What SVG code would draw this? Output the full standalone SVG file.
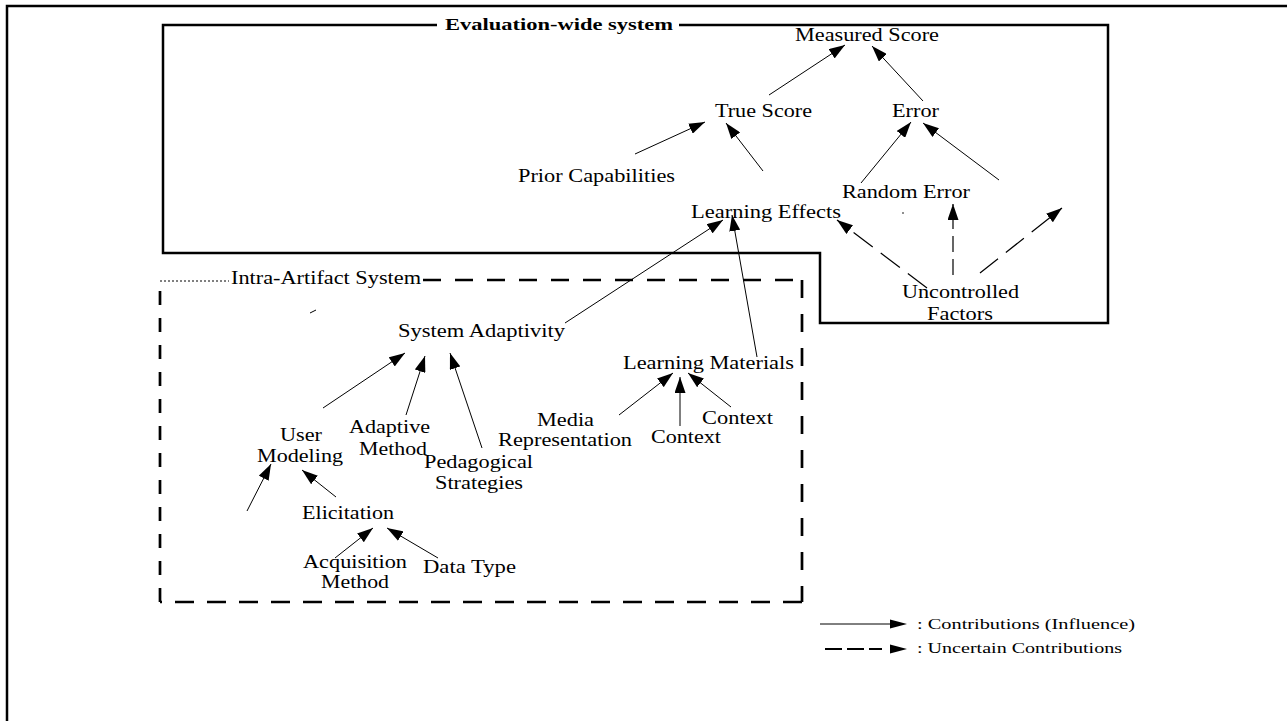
<svg xmlns="http://www.w3.org/2000/svg" width="1287" height="721" viewBox="0 0 1287 721">
  <style>
    .lbl { font-family: "Liberation Serif", "Times New Roman", serif; font-size: 18px; fill: #000; }
    .title { font-family: "Liberation Serif", "Times New Roman", serif; font-size: 16px; font-weight: bold; fill: #000; }
    .leg { font-family: "Liberation Serif", "Times New Roman", serif; font-size: 15px; fill: #000; }
    .edge { stroke: #000; stroke-width: 1; fill: none; marker-end: url(#arr); }
    .dash { stroke: #000; stroke-width: 1.2; fill: none; marker-end: url(#arr); }
    .frame { stroke: #000; fill: none; }
  </style>
  <defs>
    <marker id="arr" markerUnits="userSpaceOnUse" markerWidth="16" markerHeight="11" refX="16" refY="5.5" orient="auto">
      <path d="M0,0 L16,5.5 L0,11 Z" fill="#000"/>
    </marker>
  </defs>
  <rect width="1287" height="721" fill="#fff"/>

  <!-- page frame -->
  <polyline class="frame" stroke-width="2.5" points="7,721 7,6 1287,6"/>

  <!-- evaluation-wide system boundary -->
  <g id="evaluation-wide-system">
    <path class="frame" stroke-width="2.5" d="M437,25 H163 V253 H820 V323 H1108 V25 H679"/>
    <text class="title" x="445" y="30" textLength="228" lengthAdjust="spacingAndGlyphs">Evaluation-wide system</text>
  </g>

  <!-- intra-artifact system boundary -->
  <g id="intra-artifact-system">
    <line x1="160" y1="281" x2="229" y2="281" stroke="#000" stroke-width="1" stroke-dasharray="2,2"/>
    <line x1="423" y1="280" x2="802" y2="280" stroke="#000" stroke-width="2.7" stroke-dasharray="18,14"/>
    <line x1="802" y1="280" x2="802" y2="602" stroke="#000" stroke-width="2.7" stroke-dasharray="18,16"/>
    <line x1="802" y1="602" x2="160" y2="602" stroke="#000" stroke-width="2.7" stroke-dasharray="19,13"/>
    <line x1="160" y1="602" x2="160" y2="281" stroke="#000" stroke-width="2.7" stroke-dasharray="14,13"/>
    <text class="lbl" x="231" y="284" textLength="190" lengthAdjust="spacingAndGlyphs">Intra-Artifact System</text>
  </g>

  <!-- nodes -->
  <g id="measured-score"><text class="lbl" x="795" y="41" textLength="144" lengthAdjust="spacingAndGlyphs">Measured Score</text></g>
  <g id="true-score"><text class="lbl" x="715" y="117" textLength="97" lengthAdjust="spacingAndGlyphs">True Score</text></g>
  <g id="error"><text class="lbl" x="892" y="117" textLength="47" lengthAdjust="spacingAndGlyphs">Error</text></g>
  <g id="prior-capabilities"><text class="lbl" x="518" y="182" textLength="157" lengthAdjust="spacingAndGlyphs">Prior Capabilities</text></g>
  <g id="random-error"><text class="lbl" x="842" y="198" textLength="128" lengthAdjust="spacingAndGlyphs">Random Error</text></g>
  <g id="learning-effects"><text class="lbl" x="691" y="218" textLength="150" lengthAdjust="spacingAndGlyphs">Learning Effects</text></g>
  <g id="uncontrolled-factors">
    <text class="lbl" x="902" y="298" textLength="117" lengthAdjust="spacingAndGlyphs">Uncontrolled</text>
    <text class="lbl" x="927" y="320" textLength="66" lengthAdjust="spacingAndGlyphs">Factors</text>
  </g>
  <g id="system-adaptivity"><text class="lbl" x="398" y="337" textLength="167" lengthAdjust="spacingAndGlyphs">System Adaptivity</text></g>
  <g id="learning-materials"><text class="lbl" x="623" y="369" textLength="171" lengthAdjust="spacingAndGlyphs">Learning Materials</text></g>
  <g id="user-modeling">
    <text class="lbl" x="280" y="441" textLength="42" lengthAdjust="spacingAndGlyphs">User</text>
    <text class="lbl" x="257" y="462" textLength="86" lengthAdjust="spacingAndGlyphs">Modeling</text>
  </g>
  <g id="adaptive-method">
    <text class="lbl" x="349" y="433" textLength="81" lengthAdjust="spacingAndGlyphs">Adaptive</text>
    <text class="lbl" x="359" y="455" textLength="68" lengthAdjust="spacingAndGlyphs">Method</text>
  </g>
  <g id="pedagogical-strategies">
    <text class="lbl" x="424" y="468" textLength="109" lengthAdjust="spacingAndGlyphs">Pedagogical</text>
    <text class="lbl" x="435" y="489" textLength="88" lengthAdjust="spacingAndGlyphs">Strategies</text>
  </g>
  <g id="media-representation">
    <text class="lbl" x="537" y="426" textLength="57" lengthAdjust="spacingAndGlyphs">Media</text>
    <text class="lbl" x="498" y="446" textLength="134" lengthAdjust="spacingAndGlyphs">Representation</text>
  </g>
  <g id="context-a"><text class="lbl" x="651" y="443" textLength="70" lengthAdjust="spacingAndGlyphs">Context</text></g>
  <g id="context-b"><text class="lbl" x="702" y="424" textLength="71" lengthAdjust="spacingAndGlyphs">Context</text></g>
  <g id="elicitation"><text class="lbl" x="302" y="519" textLength="92" lengthAdjust="spacingAndGlyphs">Elicitation</text></g>
  <g id="acquisition-method">
    <text class="lbl" x="303" y="568" textLength="104" lengthAdjust="spacingAndGlyphs">Acquisition</text>
    <text class="lbl" x="321" y="588" textLength="68" lengthAdjust="spacingAndGlyphs">Method</text>
  </g>
  <g id="data-type"><text class="lbl" x="423" y="573" textLength="93" lengthAdjust="spacingAndGlyphs">Data Type</text></g>

  <!-- connectors -->
  <g id="connectors">
    <line class="edge" x1="769" y1="95" x2="845" y2="45"/>
    <line class="edge" x1="923" y1="101" x2="872" y2="46"/>
    <line class="edge" x1="635" y1="154" x2="705" y2="122"/>
    <line class="edge" x1="763" y1="171" x2="726" y2="123"/>
    <line class="edge" x1="861" y1="183" x2="911" y2="122"/>
    <line class="edge" x1="999" y1="180" x2="923" y2="123"/>
    <line class="dash" x1="927" y1="288" x2="837" y2="220" stroke-dasharray="24,10"/>
    <line class="dash" x1="953" y1="275" x2="953" y2="204" stroke-dasharray="16,7"/>
    <line class="dash" x1="980" y1="273" x2="1062" y2="208" stroke-dasharray="23,10"/>
    <line class="edge" x1="565" y1="323" x2="723" y2="220"/>
    <line class="edge" x1="757" y1="357" x2="732" y2="215"/>
    <line class="edge" x1="323" y1="408" x2="405" y2="353"/>
    <line class="edge" x1="406" y1="415" x2="425" y2="356"/>
    <line class="edge" x1="482" y1="448" x2="450" y2="353"/>
    <line class="edge" x1="247" y1="511" x2="271" y2="464"/>
    <line class="edge" x1="336" y1="497" x2="302" y2="470"/>
    <line class="edge" x1="335" y1="558" x2="373" y2="528"/>
    <line class="edge" x1="438" y1="558" x2="387" y2="528"/>
    <line class="edge" x1="619" y1="415" x2="673" y2="373"/>
    <line class="edge" x1="680" y1="426" x2="680" y2="377"/>
    <line class="edge" x1="731" y1="407" x2="688" y2="373"/>
    <!-- small stray strokes -->
    <line x1="310" y1="313" x2="316" y2="310" stroke="#000" stroke-width="1"/>
    <circle cx="903" cy="213" r="0.8" fill="#000"/>
  </g>

  <!-- legend -->
  <g id="legend">
    <line x1="820" y1="624" x2="891" y2="624" stroke="#000" stroke-width="1"/>
    <path d="M890,619.5 L907,624 L890,628.5 Z" fill="#000"/>
    <text class="leg" x="917" y="629" textLength="218" lengthAdjust="spacingAndGlyphs">: Contributions (Influence)</text>
    <line x1="825" y1="649" x2="882" y2="649" stroke="#000" stroke-width="2" stroke-dasharray="17,5"/>
    <path d="M890,644.5 L907,649 L890,653.5 Z" fill="#000"/>
    <text class="leg" x="917" y="653" textLength="205" lengthAdjust="spacingAndGlyphs">: Uncertain Contributions</text>
  </g>
</svg>
